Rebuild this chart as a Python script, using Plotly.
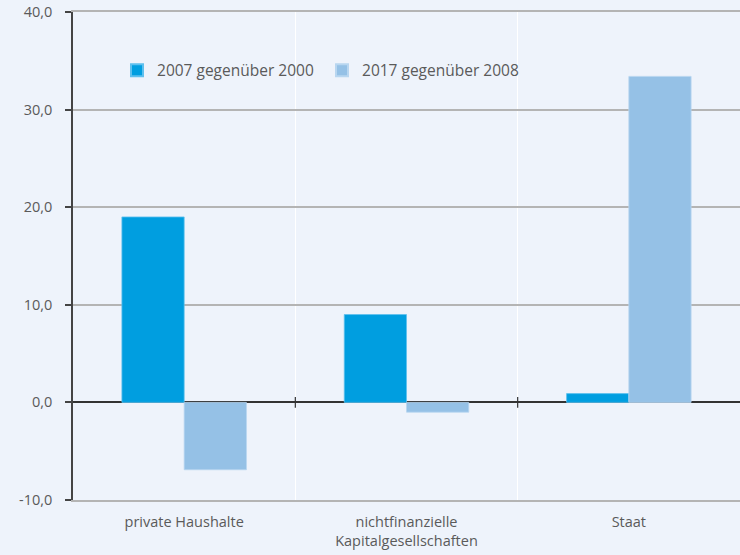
import plotly.graph_objects as go

categories = ["private Haushalte", "nichtfinanzielle<br>Kapitalgesellschaften", "Staat"]
series_names = ["2007 gegenüber 2000", "2017 gegenüber 2008"]
values_2007_vs_2000 = [19.0, 9.0, 0.9]
values_2017_vs_2008 = [-6.9, -1.0, 33.4]
y_ticks = [-10, 0, 10, 20, 30, 40]
y_tick_labels = ["-10,0", "0,0", "10,0", "20,0", "30,0", "40,0"]

BG = "#eef3fb"
FONT = "Open Sans"
TXT = "#5a5a5a"

fig = go.Figure()
fig.add_bar(x=categories, y=values_2007_vs_2000, name=series_names[0],
            marker=dict(color="#009ee0", line=dict(color="#5ec0ee", width=0.8)))
fig.add_bar(x=categories, y=values_2017_vs_2008, name=series_names[1],
            marker=dict(color="#95c1e6", line=dict(color="#b8d6f0", width=0.8)))

# small tick marks on the zero line at the category boundaries
for i in range(1, len(categories)):
    fig.add_shape(type="line", xref="x", yref="y", x0=i - 0.5, x1=i - 0.5,
                  y0=-0.55, y1=0.55, line=dict(color="#333333", width=1.2),
                  layer="above")

fig.update_layout(
    width=740, height=555,
    paper_bgcolor=BG, plot_bgcolor=BG,
    margin=dict(l=73, r=0, t=12, b=55),
    barmode="group", bargap=0.44, bargroupgap=0,
    font=dict(family=FONT, size=14, color=TXT),
    showlegend=True,
    legend=dict(orientation="h", x=0.066, xanchor="left", y=0.88, yanchor="middle",
                bgcolor="rgba(0,0,0,0)", font=dict(family=FONT, size=15.5, color=TXT),
                entrywidth=160, itemsizing="constant"),
    xaxis=dict(range=[-0.5, 2.5], showline=True, mirror=True, linecolor="#b4b4b4",
               linewidth=1.5, showgrid=True, gridcolor="#ffffff",
               gridwidth=1, tickson="boundaries", ticks="", zeroline=False,
               tickfont=dict(family=FONT, size=14.5, color=TXT), ticklabelstandoff=8),
    yaxis=dict(range=[-10, 40], tickvals=y_ticks, ticktext=y_tick_labels,
               showgrid=True, gridcolor="#b4b4b4", gridwidth=1.5,
               zeroline=True, zerolinecolor="#333333", zerolinewidth=1.5,
               showline=True, linecolor="#444444", linewidth=1.5,
               ticks="outside", ticklen=6, tickwidth=1.5, tickcolor="#444444",
               ticklabelstandoff=10,
               tickfont=dict(family=FONT, size=14.5, color=TXT)),
)

fig.write_html("out.html", config={"displayModeBar": False},
               post_script="document.body.style.margin='0';")
